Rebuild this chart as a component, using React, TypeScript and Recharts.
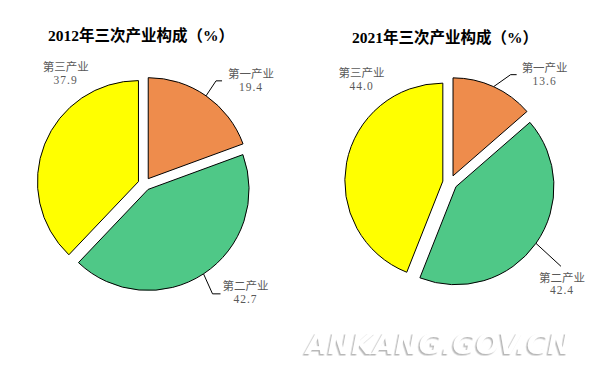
import React from 'react';
import { PieChart, Pie, Cell } from 'recharts';

// ---- data ----
const sectors = ['第一产业', '第二产业', '第三产业'];
const share2012 = [19.4, 42.7, 37.9];
const share2021 = [13.6, 42.4, 44.0];
const valueLabels2012 = ['19.4', '42.7', '37.9'];
const valueLabels2021 = ['13.6', '42.4', '44.0'];
const titles = ['2012年三次产业构成（%）', '2021年三次产业构成（%）'];
const colors = ['#EE8C4C', '#4FC887', '#FFFF00'];

// ---- layout (positions / styles only) ----
type LabelLayout = { name: [number, number]; value: [number, number]; line: [number, number][] };
const layout2012 = {
  cx: 144.5, cy: 184, r: 101, explode: 6.5, titleX: 141, titleY: 35,
  labels: [
    { name: [45, -22.5], value: [45, -8.5], line: [[10, -15], [16, -15]] },
    { name: [42, 11.5], value: [42, 25], line: [[9, 20], [17, 20]] },
    { name: [21, -78.5], value: [21, -64.5], line: [] },
  ] as LabelLayout[],
};
const layout2021 = {
  cx: 450, cy: 182.5, r: 98, explode: 7.3, titleX: 445, titleY: 37,
  labels: [
    { name: [51, -19.5], value: [51, -6], line: [[17, -12], [23, -12]] },
    { name: [26, 33.5], value: [26, 47], line: [[25, 23]] },
    { name: [15, -90.5], value: [15, -77], line: [] },
  ] as LabelLayout[],
};

const RAD = Math.PI / 180;
const labelFont = '"Liberation Serif", "Noto Sans CJK SC", serif';
const cjkFont = '"Noto Sans CJK SC", sans-serif';

function midAngles(values: number[]) {
  const total = values.reduce((a, b) => a + b, 0);
  let cum = 0;
  return values.map((v) => {
    const a = (360 * v) / total;
    const mid = 90 - cum - a / 2;
    cum += a;
    return mid;
  });
}

function renderPies(values: number[], valueLabels: string[], lay: typeof layout2012, key: string) {
  const data = values.map((v, i) => ({ name: sectors[i], value: v }));
  const mids = midAngles(values);
  return sectors.map((_, si) => {
    const dx = lay.explode * Math.cos(mids[si] * RAD);
    const dy = -lay.explode * Math.sin(mids[si] * RAD);
    const lab = lay.labels[si];
    const renderLabel = (p: any) => {
      if (p.index !== si) return <g key={`e${p.index}`} />;
      const ax = p.cx + p.outerRadius * Math.cos(-p.midAngle * RAD);
      const ay = p.cy + p.outerRadius * Math.sin(-p.midAngle * RAD);
      const pts = [[ax, ay], ...lab.line.map(([x, y]) => [ax + x, ay + y])];
      return (
        <g key={`l${si}`}>
          {lab.line.length > 0 && (
            <polyline points={pts.map((q) => q.join(',')).join(' ')} fill="none" stroke="#000" strokeWidth={1} />
          )}
          <text x={ax + lab.name[0]} y={ay + lab.name[1]} textAnchor="middle" dominantBaseline="central"
            fontFamily={cjkFont} fontSize={11.5} fill="#595959">{sectors[si]}</text>
          <text x={ax + lab.value[0]} y={ay + lab.value[1]} textAnchor="middle" dominantBaseline="central"
            fontFamily={labelFont} fontSize={11.5} letterSpacing={1} fill="#595959">{valueLabels[si]}</text>
        </g>
      );
    };
    return (
      <Pie
        key={`${key}-${si}`}
        data={data}
        dataKey="value"
        cx={lay.cx + dx}
        cy={lay.cy + dy}
        outerRadius={lay.r}
        innerRadius={0}
        startAngle={90}
        endAngle={-270}
        isAnimationActive={false}
        label={renderLabel}
        labelLine={false}
      >
        {data.map((d, ci) => (
          <Cell
            key={ci}
            fill={ci === si ? colors[ci] : 'none'}
            stroke={ci === si ? '#000' : 'none'}
            strokeWidth={1}
          />
        ))}
      </Pie>
    );
  });
}

export default function App() {
  return (
    <div style={{ position: 'absolute', left: 0, top: 0, width: 593, height: 369, background: '#fff' }}>
      <PieChart width={593} height={369} margin={{ top: 0, right: 0, bottom: 0, left: 0 }}>
        {renderPies(share2012, valueLabels2012, layout2012, 'a')}
        {renderPies(share2021, valueLabels2021, layout2021, 'b')}
      </PieChart>
      <svg width={593} height={369} style={{ position: 'absolute', left: 0, top: 0, pointerEvents: 'none' }}>
        <defs>
          <filter id="wmShadow" x="-10%" y="-30%" width="120%" height="160%">
            <feDropShadow dx={-1.5} dy={1.5} stdDeviation={0.4} floodColor="#b8b8b8" floodOpacity={1} />
          </filter>
        </defs>
        {[layout2012, layout2021].map((l, i) => (
          <text key={i} x={l.titleX} y={l.titleY} textAnchor="middle" dominantBaseline="central"
            fontFamily={'"Liberation Serif", "Noto Sans CJK SC", serif'} fontWeight="bold" fontSize={15.5} fill="#000">
            {titles[i]}
          </text>
        ))}
        <text x={306} y={354} textLength={265} lengthAdjust="spacingAndGlyphs" fill="#ffffff"
          fontFamily='"DejaVu Sans", sans-serif' fontWeight="bold" fontStyle="italic" fontSize={29}
          filter="url(#wmShadow)">ANKANG.GOV.CN</text>
      </svg>
    </div>
  );
}
